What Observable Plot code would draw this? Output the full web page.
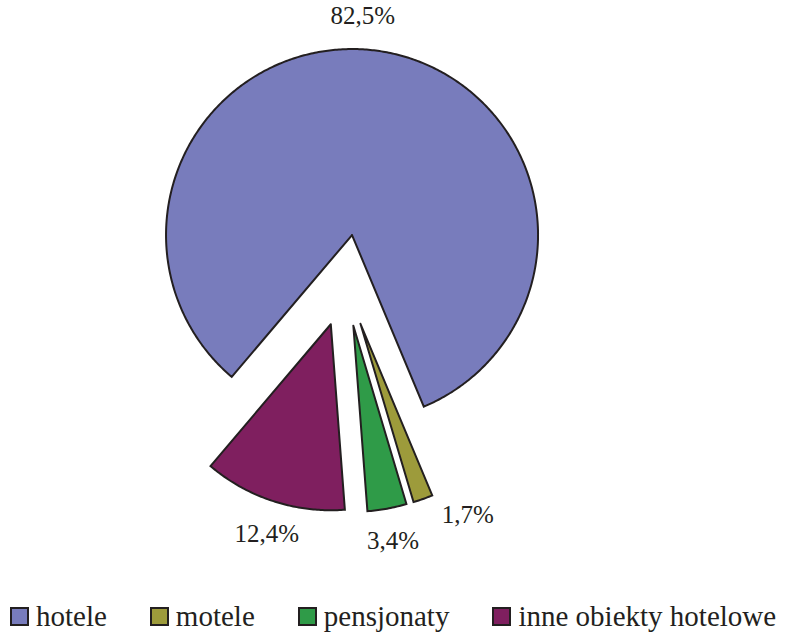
<!DOCTYPE html>
<html>
<head>
<meta charset="utf-8">
<script src="https://cdn.jsdelivr.net/npm/d3@7"></script>
<script src="https://cdn.jsdelivr.net/npm/@observablehq/plot@0.6"></script>
<style>
  html, body { margin: 0; padding: 0; background: #fff; overflow: hidden; }
  #chart svg { display: block; }
  #legend { display: flex; align-items: center; height: 48px; padding-left: 10px; white-space: nowrap;
            font-family: "Liberation Serif", "Times New Roman", serif; font-size: 29px; color: #231f20; }
  .item { display: flex; align-items: center; flex-shrink: 0; }
  .item + .item { margin-left: 43px; }
  .sw { width: 19px; height: 19px; box-sizing: border-box; border: 2px solid #231f20; margin-right: 7px; flex-shrink: 0; }
</style>
</head>
<body>
<div id="chart"></div>
<div id="legend"></div>
<script>
// ---- data ----
const categories = ["hotele", "motele", "pensjonaty", "inne obiekty hotelowe"];
const shares = [82.5, 1.7, 3.4, 12.4];
const labels = ["82,5%", "1,7%", "3,4%", "12,4%"];
const colors = ["#787cbc", "#9d9b3b", "#2f9b48", "#7f1f5f"];

// ---- layout ----
const W = 786, H = 592;
const R = 186;              // pie radius in px
const CX = 344.5, CY = 280; // pie centre in px
const explode = 46 / R;     // explosion as fraction of radius
const startDeg = 220.3;     // first slice start angle (clockwise from 12 o'clock)
const labelR = 1.177;       // label distance from slice apex, in radii
const labelNudgeDeg = [-6, -9.7, 0, -1];

const rows = categories.map((c, i) => ({name: c, share: shares[i], label: labels[i], color: colors[i], idx: i}));
const start = startDeg * Math.PI / 180;
const arcs = d3.pie().sort(null).value(d => d.share).startAngle(start).endAngle(start + 2 * Math.PI)(rows);

const marks = [];
const labelPts = [];
arcs.forEach(a => {
  const mid = (a.startAngle + a.endAngle) / 2;
  const ox = explode * Math.sin(mid), oy = explode * Math.cos(mid);
  const pts = [{x: ox, y: oy}];
  const n = Math.max(4, Math.ceil((a.endAngle - a.startAngle) / 0.01));
  for (let k = 0; k <= n; k++) {
    const t = a.startAngle + (a.endAngle - a.startAngle) * k / n;
    pts.push({x: ox + Math.sin(t), y: oy + Math.cos(t)});
  }
  pts.push({x: ox, y: oy});
  marks.push(Plot.line(pts, {x: "x", y: "y", fill: a.data.color, stroke: "#231f20",
    strokeWidth: 2, strokeLinejoin: "miter", strokeMiterlimit: 10, curve: "linear"}));
  const la = mid + labelNudgeDeg[a.data.idx] * Math.PI / 180;
  labelPts.push({x: ox + labelR * Math.sin(la), y: oy + labelR * Math.cos(la), label: a.data.label});
});

marks.push(Plot.text(labelPts, {x: "x", y: "y", text: "label", fontSize: 25,
  fontFamily: "Liberation Serif", fill: "#231f20", textAnchor: "middle", lineAnchor: "middle"}));

const chart = Plot.plot({
  width: W, height: H,
  margin: 0,
  x: {domain: [-CX / R, (W - CX) / R], axis: null},
  y: {domain: [-(H - CY) / R, CY / R], axis: null},
  style: {background: "#fff"},
  marks
});
document.getElementById("chart").appendChild(chart);

// ---- legend ----
const legend = document.getElementById("legend");
rows.forEach(r => {
  const it = document.createElement("div");
  it.className = "item";
  const sw = document.createElement("span");
  sw.className = "sw";
  sw.style.background = r.color;
  const tx = document.createElement("span");
  tx.textContent = r.name;
  it.appendChild(sw); it.appendChild(tx);
  legend.appendChild(it);
});
</script>
</body>
</html>
